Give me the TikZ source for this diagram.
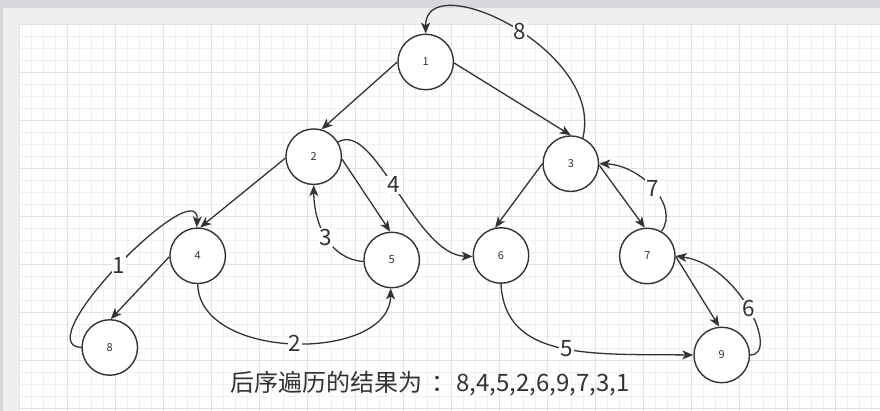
\documentclass[tikz,border=0pt]{standalone}
\usepackage{fontspec}
\setmainfont{Noto Sans CJK SC}
\usetikzlibrary{arrows.meta}
\definecolor{ink}{HTML}{333333}
\definecolor{outerbg}{HTML}{D7D7DC}
\definecolor{panelbg}{HTML}{EFEFEF}
\definecolor{gridminor}{HTML}{F0F0F0}
\definecolor{gridmajor}{HTML}{E2E2E2}
\tikzset{
  treenode/.style={circle, draw=ink, line width=1.4pt, fill=white, minimum size=55.5pt, inner sep=0pt, text=ink, font=\fontsize{11}{11}\selectfont},
  link/.style={draw=ink, line width=1.3pt, -{Stealth[length=11pt,width=9pt,inset=3pt]}},
  lbl/.style={fill=white, inner sep=1pt, text=ink, font=\fontsize{22.5}{22.5}\selectfont},
  minorline/.style={draw=gridminor, line width=0.9pt},
  majorline/.style={draw=gridmajor, line width=0.9pt},
}
\begin{document}
\begin{tikzpicture}[x=1pt,y=-1pt]
\useasboundingbox (0,0) rectangle (880,411);
\fill[outerbg] (0,0) rectangle (880,411);
\fill[panelbg] (3,8) rectangle (880,411);
\fill[white] (19.3,24.3) rectangle (880,411);
\foreach \i in {0,...,71} {
  \draw[minorline] ({19.7+12*\i},24.3) -- ({19.7+12*\i},411);
}
\foreach \j in {0,...,32} {
  \draw[minorline] (19.3,{24.3+12*\j}) -- (880,{24.3+12*\j});
}
\foreach \i in {0,...,17} {
  \draw[majorline] ({19.7+48*\i},24.3) -- ({19.7+48*\i},411);
}
\foreach \j in {0,...,8} {
  \draw[majorline] (19.3,{24.3+48*\j}) -- (880,{24.3+48*\j});
}

% nodes
\node[treenode] (n1) at (425.7,62) {1};
\node[treenode] (n2) at (313.7,156.7) {2};
\node[treenode] (n3) at (570.8,163.7) {3};
\node[treenode] (n4) at (197.7,255.8) {4};
\node[treenode] (n5) at (391.7,260) {5};
\node[treenode] (n6) at (501,255.5) {6};
\node[treenode] (n7) at (647.3,256) {7};
\node[treenode] (n8) at (109.8,347.5) {8};
\node[treenode] (n9) at (721.7,355) {9};

% tree edges
\draw[link] (n1.180) -- (n2.74);
\draw[link] (n1.-2) -- (n3.90);
\draw[link] (n2.183) -- (n4.85);
\draw[link] (n2.-5) -- (n5.93);
\draw[link] (n3.180) -- (n6.102);
\draw[link] (n3.-3) -- (n7.95);
\draw[link] (n4.182) -- (n8.88);
\draw[link] (n7.-1) -- (n9.95);

% traversal edges
\draw[link] (n8.180) .. controls (25,345) and (200,170) .. node[lbl, pos=0.5] {1} (n4.92);
\draw[link] (n4.-90) .. controls (200,362) and (390,362) .. node[lbl, pos=0.5] {2} (n5.-92);
\draw[link] (n5.183) .. controls (330,259) and (314,225) .. node[lbl, pos=0.5] {3} (n2.-90);
\draw[link] (n2.31) .. controls (375,120) and (415,255) .. node[lbl, pos=0.47] {4} (n6.182);
\draw[link] (n6.-90) .. controls (505,360) and (590,354) .. node[lbl, pos=0.53] {5} (n9.180);
\draw[link] (n9.0) .. controls (780,355) and (740,265) .. node[lbl, pos=0.5] {6} (n7.0);
\draw[link] (n7.60) .. controls (680,205) and (640,165) .. node[lbl, pos=0.5] {7} (n3.0);
\draw[link] (n3.65) .. controls (605,50) and (425,-35) .. node[lbl, pos=0.47] {8} (n1.90);

% result text
\node[anchor=base west, inner sep=0pt, text=ink, font=\fontsize{24}{24}\selectfont] (result) at (230,391.7) {后序遍历的结果为\hspace{9pt}：\hspace{1pt}8,4,5,2,6,9,7,3,1};
\end{tikzpicture}
\end{document}
